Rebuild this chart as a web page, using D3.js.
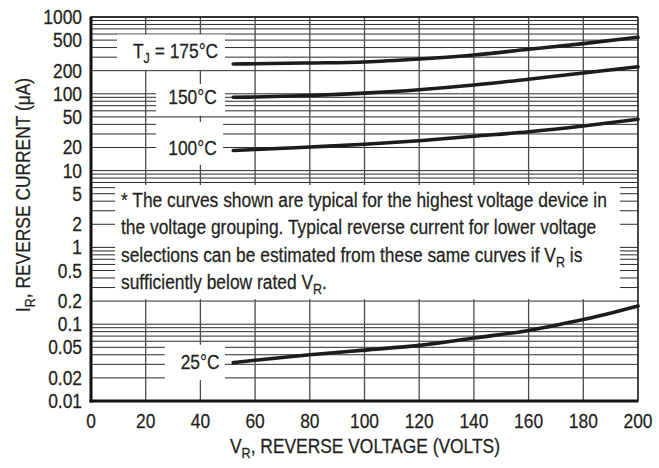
<!DOCTYPE html>
<html><head><meta charset="utf-8">
<script src="https://cdn.jsdelivr.net/npm/d3@7"></script>
<style>
body{margin:0;background:#fff;}
text{font-family:"Liberation Sans", Arial, sans-serif; fill:#231f20; stroke:#231f20; stroke-width:0.25px;}
</style></head><body>
<svg width="659" height="468"></svg>
<script>
// --- data (V_R in volts, I_R in µA) ---
const voltage = [52, 60, 80, 100, 120, 140, 160, 180, 200];
const i175 = [244, 246, 252, 260, 284, 320, 380, 450, 545];
const i150 = [90, 91, 95, 102, 113, 130, 155, 187, 225];
const i100 = [18.3, 18.8, 20.3, 22, 24.5, 28, 32, 38, 46.5];
const voltage25 = [52, 60, 80, 100, 120, 140, 160, 170, 180, 200];
const i25 = [0.0316, 0.034, 0.040, 0.046, 0.053, 0.066, 0.083, 0.097, 0.115, 0.173];

const xTicks = d3.range(0, 201, 20);
const yTickLabels = [1000, 500, 200, 100, 50, 20, 10, 5, 2, 1, 0.5, 0.2, 0.1, 0.05, 0.02, 0.01];

// curve labels: [parts, V at right end, I at centre]
const curveLabels = [
  [[["T"], ["J", true], [" = 175°C"]], 46.5, 360],
  [[["150°C"]], 46, 90.8],
  [[["100°C"]], 46, 19.6],
  [[["25°C"]], 47, 0.0319]
];
// white boxes cleared in the grid: [V left, V right, I top, I bottom]
const clearBoxes = [
  [9.5, 49, 590, 205],
  [23.8, 49, 134, 52],
  [23.8, 48.3, 43, 11.9],
  [27, 49, 0.054, 0.0187],
  [8.8, 193.4, 6.5, 0.212]
];
const noteLines = [
  [["* The curves shown are typical for the highest voltage device in"]],
  [["the voltage grouping. Typical reverse current for lower voltage"]],
  [["selections can be estimated from these same curves if V"], ["R", true], [" is"]],
  [["sufficiently below rated V"], ["R", true], ["."]]
];

// --- setup ---
const svg = d3.select("svg");
const K = 0.87;   // condensed type
const FS = 20;
const x = d3.scaleLinear().domain([0, 200]).range([91, 638]);
const y = d3.scaleLog().domain([0.01, 1000]).range([401, 17]);

function label(parent, px, py, parts, anchor, rot) {
  const g = parent.append("g")
    .attr("transform", `translate(${px},${py})${rot ? ` rotate(${rot})` : ""} scale(${K},1)`);
  const t = g.append("text").attr("text-anchor", anchor || "start").attr("font-size", FS);
  let down = false;
  parts.forEach(p => {
    const sub = !!p[1];
    const s = t.append("tspan").text(p[0]);
    if (sub) { s.attr("font-size", FS * 0.72).attr("dy", 5); down = true; }
    else if (down) { s.attr("dy", -5); down = false; }
  });
  return g;
}

// grid
const gridVals = [];
for (let e = -2; e < 3; e++) for (let m = 1; m < 10; m++) gridVals.push(m * Math.pow(10, e));
gridVals.push(1000);

const grid = svg.append("g");
grid.selectAll(".h").data(gridVals).join("line")
  .attr("x1", x(0)).attr("x2", x(200))
  .attr("y1", d => y(d)).attr("y2", d => y(d))
  .attr("stroke", "#2a2a2a").attr("stroke-width", 1);
grid.selectAll(".v").data(xTicks).join("line")
  .attr("x1", d => x(d)).attr("x2", d => x(d))
  .attr("y1", y(1000)).attr("y2", y(0.01))
  .attr("stroke", "#4a4a4a").attr("stroke-width", 1.3);

// cleared areas
svg.append("g").selectAll("rect").data(clearBoxes).join("rect")
  .attr("x", d => x(d[0])).attr("width", d => x(d[1]) - x(d[0]))
  .attr("y", d => y(d[2])).attr("height", d => y(d[3]) - y(d[2]))
  .attr("fill", "#fff");

// frame
svg.append("line").attr("x1", x(0)).attr("x2", x(0)).attr("y1", y(1000) - 0.5).attr("y2", y(0.01) + 1.5)
  .attr("stroke", "#111").attr("stroke-width", 3);
svg.append("line").attr("x1", x(0) - 1.5).attr("x2", x(200) + 0.5).attr("y1", y(0.01)).attr("y2", y(0.01))
  .attr("stroke", "#111").attr("stroke-width", 3);
svg.append("line").attr("x1", x(0)).attr("x2", x(200)).attr("y1", y(1000)).attr("y2", y(1000))
  .attr("stroke", "#111").attr("stroke-width", 1.5);
svg.append("line").attr("x1", x(200)).attr("x2", x(200)).attr("y1", y(1000)).attr("y2", y(0.01))
  .attr("stroke", "#333").attr("stroke-width", 1.5);

// curves
const line = d3.line().x(d => x(d[0])).y(d => y(d[1])).curve(d3.curveMonotoneX);
const series = [d3.zip(voltage, i175), d3.zip(voltage, i150), d3.zip(voltage, i100), d3.zip(voltage25, i25)];
svg.append("g").selectAll("path").data(series).join("path")
  .attr("d", line).attr("fill", "none").attr("stroke", "#1e1b1c")
  .attr("stroke-width", 3.6).attr("stroke-linecap", "round");

// curve labels
curveLabels.forEach(c => label(svg, x(c[1]), y(c[2]) + 7, c[0], "end"));

// note
noteLines.forEach((l, i) => label(svg, 121, 207 + i * 27.3, l, "start"));

// tick labels
yTickLabels.forEach(v => label(svg, 82, y(v) + 7, [[String(v)]], "end"));
xTicks.forEach(v => label(svg, x(v), 428, [[String(v)]], "middle"));

// axis titles
label(svg, 365, 453, [["V"], ["R", true], [", REVERSE VOLTAGE (VOLTS)"]], "middle");
label(svg, 30, 195, [["I"], ["R", true], [", REVERSE CURRENT (μA)"]], "middle", -90);
</script>
</body></html>
